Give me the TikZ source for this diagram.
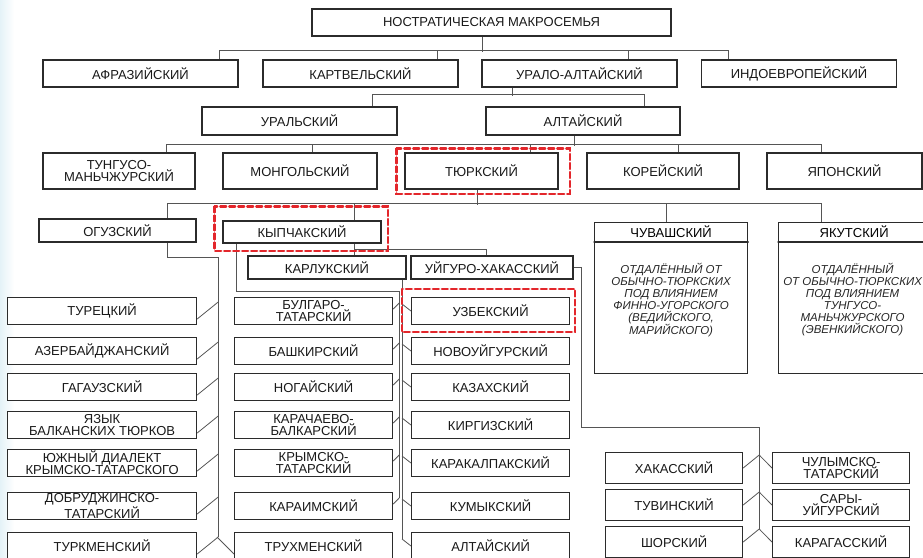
\documentclass[tikz,border=0pt]{standalone}
\usepackage{fontspec}
\setmainfont{Liberation Sans}
\usetikzlibrary{backgrounds}
\definecolor{boxline}{HTML}{2B2B2B}
\definecolor{busline}{HTML}{555555}
\definecolor{markred}{HTML}{E3262B}
\definecolor{haze}{HTML}{E4F2F7}

\begin{document}
\begin{tikzpicture}[x=1pt,y=-1pt,line cap=round,
    lang/.style={draw=boxline,line width=1.2pt,fill=white,align=center,inner sep=0pt,
      text=black!90,font=\fontsize{13}{12}\selectfont},
    note/.style={align=center,inner sep=0pt,text=black!85,font=\fontsize{11.5}{12}\selectfont\itshape},
    bus/.style={draw=busline,line width=0.8pt},
    hlbox/.style={draw=markred,line width=2.2pt,dash pattern=on 6pt off 3pt}]
  \useasboundingbox (0,0) rectangle (923,557);
  \clip (0,0) rectangle (923,557);

  % верхние уровни
  \node[lang,minimum width=359pt,minimum height=27pt] (nostr) at (491.5,22.5) {НОСТРАТИЧЕСКАЯ МАКРОСЕМЬЯ};
  \foreach \n/\x/\t in {afr/140.5/АФРАЗИЙСКИЙ,kartv/360.5/КАРТВЕЛЬСКИЙ,uralalt/579.5/УРАЛО-АЛТАЙСКИЙ,indoeur/799/ИНДОЕВРОПЕЙСКИЙ}
    \node[lang,minimum width=195pt,minimum height=27pt] (\n) at (\x,73.5) {\t};
  \node[lang,minimum width=195pt,minimum height=28pt] (ural) at (299.5,121) {УРАЛЬСКИЙ};
  \node[lang,minimum width=194pt,minimum height=28pt] (alt) at (583,121) {АЛТАЙСКИЙ};
  \foreach \n/\x/\w/\t in {tungus/119/152/{ТУНГУСО-\\МАНЬЧЖУРСКИЙ},mongol/300/154/МОНГОЛЬСКИЙ,turk/481.5/153/ТЮРКСКИЙ,korea/663/152/КОРЕЙСКИЙ,japan/844.5/155/ЯПОНСКИЙ}
    \node[lang,minimum width=\w pt,minimum height=36pt] (\n) at (\x,171) {\t};

  % тюркские группы
  \node[lang,minimum width=157pt,minimum height=23pt] (oguz) at (117.5,230.5) {ОГУЗСКИЙ};
  \node[lang,minimum width=158pt,minimum height=22pt] (kipch) at (302,232) {КЫПЧАКСКИЙ};
  \node[lang,minimum width=158pt,minimum height=23pt] (karluk) at (327,267.5) {КАРЛУКСКИЙ};
  \node[lang,minimum width=162pt,minimum height=23pt] (uighur) at (492,267.5) {УЙГУРО-ХАКАССКИЙ};
  \node[lang,anchor=north west,minimum width=153pt,minimum height=151pt] (chuv) at (594,222) {};
  \node[lang,anchor=north west,minimum width=151pt,minimum height=151pt] (yakut) at (778,222) {};
  \draw[boxline,line width=1.2pt] ([yshift=-20pt]chuv.north west) -- ([yshift=-20pt]chuv.north east);
  \draw[boxline,line width=1.2pt] ([yshift=-20pt]yakut.north west) -- ([yshift=-20pt]yakut.north east);
  \node[font=\fontsize{13}{12}\selectfont] (chuvh) at ([yshift=-10pt]chuv.north) {ЧУВАШСКИЙ};
  \node[font=\fontsize{13}{12}\selectfont] (yakuth) at ([yshift=-10pt]yakut.north) {ЯКУТСКИЙ};
  \node[note] (chuvn) at ([yshift=-78pt]chuv.north) {ОТДАЛЁННЫЙ ОТ\\ОБЫЧНО-ТЮРКСКИХ\\ПОД ВЛИЯНИЕМ\\ФИННО-УГОРСКОГО\\(ВЕДИЙСКОГО,\\МАРИЙСКОГО)};
  \node[note] (yakutn) at ([yshift=-78pt,xshift=-1.5pt]yakut.north) {ОТДАЛЁННЫЙ\\ОТ ОБЫЧНО-ТЮРКСКИХ\\ПОД ВЛИЯНИЕМ\\ТУНГУСО-\\МАНЬЧЖУРСКОГО\\(ЭВЕНКИЙСКОГО)};

  % языки
  \foreach \i/\y/\t in {1/297/ТУРЕЦКИЙ,2/337/АЗЕРБАЙДЖАНСКИЙ,3/373/ГАГАУЗСКИЙ,4/411/{ЯЗЫК\\БАЛКАНСКИХ ТЮРКОВ},5/449/{ЮЖНЫЙ ДИАЛЕКТ\\КРЫМСКО-ТАТАРСКОГО},6/492/{ДОБРУДЖИНСКО-\\ТАТАРСКИЙ},7/532/ТУРКМЕНСКИЙ}
    \node[lang,anchor=north west,minimum width=189pt,minimum height=27pt] (og\i) at (7,\y) {\t};
  \foreach \i/\y/\t in {1/297/{БУЛГАРО-\\ТАТАРСКИЙ},2/337/БАШКИРСКИЙ,3/373/НОГАЙСКИЙ,4/411/{КАРАЧАЕВО-\\БАЛКАРСКИЙ},5/449/{КРЫМСКО-\\ТАТАРСКИЙ},6/492/КАРАИМСКИЙ,7/532/ТРУХМЕНСКИЙ}
    \node[lang,anchor=north west,minimum width=158pt,minimum height=27pt] (kp\i) at (234,\y) {\t};
  \foreach \i/\y/\t in {1/297/УЗБЕКСКИЙ,2/337/НОВОУЙГУРСКИЙ,3/373/КАЗАХСКИЙ,4/411/КИРГИЗСКИЙ,5/449/КАРАКАЛПАКСКИЙ,6/492/КУМЫКСКИЙ,7/532/АЛТАЙСКИЙ}
    \node[lang,anchor=north west,minimum width=158pt,minimum height=27pt] (kr\i) at (411,\y) {\t};
  \foreach \i/\y/\t/\u in {1/452/ХАКАССКИЙ/{ЧУЛЫМСКО-\\ТАТАРСКИЙ},2/489/ТУВИНСКИЙ/{САРЫ-\\УЙГУРСКИЙ},3/526/ШОРСКИЙ/КАРАГАССКИЙ}{
    \node[lang,anchor=north west,minimum width=137pt,minimum height=31pt] (xl\i) at (605,\y) {\t};
    \node[lang,anchor=north west,minimum width=137pt,minimum height=31pt] (xr\i) at (772,\y) {\u};
  }

  % выделение
  \draw[hlbox] ([shift={(-8,-4)}]turk.north west) rectangle ([shift={(11,4)}]turk.south east);
  \draw[hlbox] ([shift={(-8,-14)}]kipch.north west) rectangle ([shift={(6,7)}]kipch.south east);
  \draw[hlbox] ([shift={(-9,-8)}]kr1.north west) rectangle ([shift={(5,7)}]kr1.south east);

  \begin{pgfonlayer}{background}
    \fill[left color=haze,right color=white] (0,0) rectangle (14,557);
    \draw[bus] (nostr.south -| 482,0) -- ++(0,15);
    \draw[bus] (afr.north -| 219,0) -- ++(0,-9) -| (indoeur.north -| 728,0);
    \draw[bus] (kartv.north -| 437,0) -- ++(0,-9);
    \draw[bus] (uralalt.north -| 628,0) -- ++(0,-9);
    \draw[bus] (uralalt.south -| 512,0) -- ++(0,8);
    \draw[bus] (ural.north -| 372,0) -- ++(0,-12) -| (alt.north -| 644,0);
    \draw[bus] (alt.south -| 574,0) -- ++(0,10);
    \draw[bus] (tungus.north -| 166,0) -- ++(0,-8) -| (japan.north -| 821,0);
    \foreach \n/\x in {mongol/312,turk/530,korea/678}
      \draw[bus] (\n.north -| \x,0) -- ++(0,-8);
    \draw[bus] (turk.south -| 477,0) -- ++(0,15);
    \draw[bus] (oguz.north -| 167,0) -- ++(0,-15) -| (yakut.north -| 821,0);
    \draw[bus] (chuv.north -| 666,0) -- ++(0,-18);
    \draw[bus] (karluk.north -| 354,0) -- ++(0,-52);
    \draw[bus] (uighur.north -| 486,0) -- ++(0,-6) -| (kipch.south -| 354,0);
    % ответвления
    \foreach \i in {1,...,7}
      \draw[bus] ([yshift=-22pt]og\i.north east) -- ++(21,-17) coordinate (ogt\i);
    \foreach \i in {1,...,6}
      \draw[bus] ([yshift=-12pt]kp\i.north east) -- ++(6,-6) coordinate (kpt\i);
    \draw[bus] ([yshift=-22pt]kp7.north west) -- ++(-17,-17);
    \foreach \i in {1,...,7}
      \draw[bus] ([yshift=-14pt]kr\i.north west) -- ++(-9,-7) coordinate (krt\i);
    \foreach \i in {1,2,3}
      \draw[bus] ([yshift=-16pt]xl\i.north east) -- ++(16,-13) coordinate (xt\i) -- ([yshift=-16pt]xr\i.north west);
    \draw[bus] (oguz.south -| 167,0) -- ++(0,15) -| (ogt7);
    \draw[bus] (kipch.south -| 236,0) -- ++(0,48) -| (kpt6);
    \draw[bus] (karluk.south -| 402,0) -- (krt7);
    \draw[bus] (uighur.east) -- ++(8,0) -- ++(0,160) -| (xt3);
  \end{pgfonlayer}
\end{tikzpicture}
\end{document}
